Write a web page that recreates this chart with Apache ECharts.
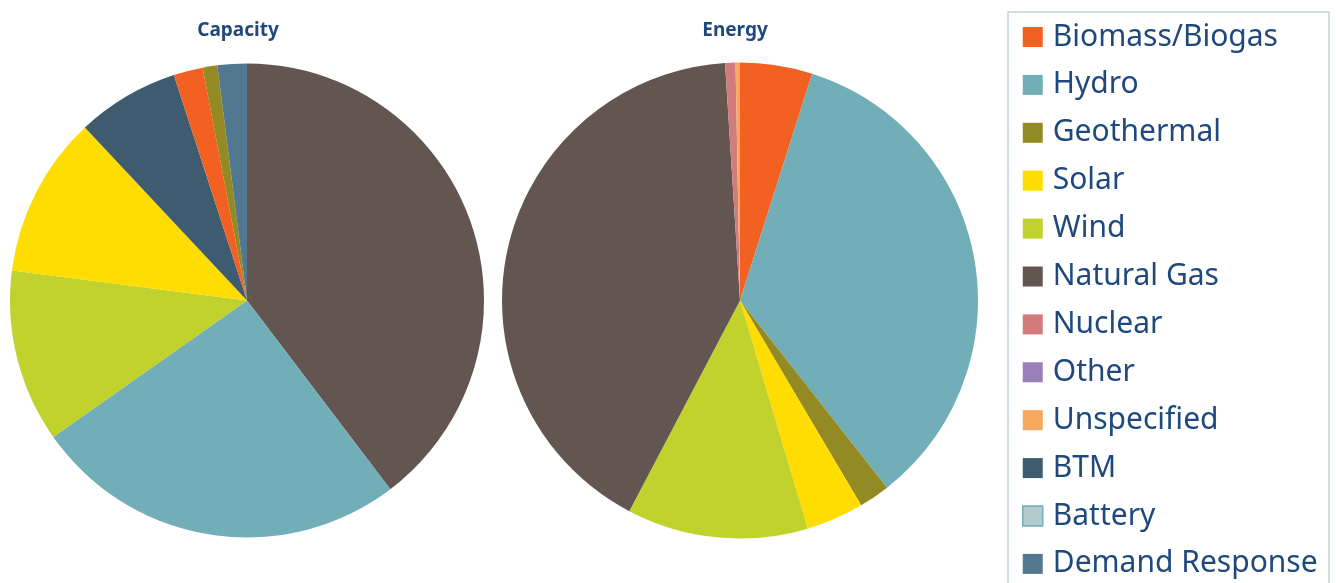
<!DOCTYPE html>
<html>
<head>
<meta charset="utf-8">
<script src="https://cdn.jsdelivr.net/npm/echarts@6/dist/echarts.min.js"></script>
<style>
  html, body { margin: 0; padding: 0; background: #fff; }
  #chart { width: 1336px; height: 583px; }
</style>
</head>
<body>
<div id="chart"></div>
<script>
// Legend categories (legend order)
const categories = ['Biomass/Biogas', 'Hydro', 'Geothermal', 'Solar', 'Wind', 'Natural Gas',
  'Nuclear', 'Other', 'Unspecified', 'BTM', 'Battery', 'Demand Response'];
const categoryColors = ['#F26122', '#71AEB8', '#948A23', '#FFDD00', '#C1D22C', '#635651',
  '#D37B7B', '#9A7FB8', '#F9A860', '#3E5B6F', '#B3CCCF', '#51788F'];

// Capacity pie (clockwise from 12 o'clock), percent
const capacityNames = ['Natural Gas', 'Hydro', 'Wind', 'Solar', 'BTM', 'Biomass/Biogas', 'Geothermal', 'Demand Response'];
const capacityValues = [39.7, 25.6, 11.8, 11.0, 7.0, 2.0, 1.0, 2.0];

// Energy pie (clockwise from 12 o'clock), percent
const energyNames = ['Biomass/Biogas', 'Hydro', 'Geothermal', 'Solar', 'Wind', 'Natural Gas', 'Nuclear', 'Other', 'Unspecified', 'Battery'];
const energyValues = [4.9, 34.5, 2.1, 3.9, 12.3, 41.3, 0.7, 0, 0.3, 0];

const colorOf = name => categoryColors[categories.indexOf(name)];
const build = (names, values) => names.map((n, i) => ({
  name: n, value: values[i], itemStyle: { color: colorOf(n) }
}));

const titleColor = '#1F497D';
const chart = echarts.init(document.getElementById('chart'), null, { renderer: 'canvas' });
chart.setOption({
  animation: false,
  backgroundColor: '#ffffff',
  title: [
    { text: 'Capacity', left: 233, top: 16, textAlign: 'center',
      textStyle: { fontFamily: 'Noto Sans', fontWeight: 'bold', fontSize: 19, color: titleColor } },
    { text: 'Energy', left: 730, top: 16, textAlign: 'center',
      textStyle: { fontFamily: 'Noto Sans', fontWeight: 'bold', fontSize: 19, color: titleColor } }
  ],
  legend: {
    data: categories.map((c, i) => ({
      name: c,
      itemStyle: c === 'Battery' ? { color: categoryColors[i], borderColor: '#72AEB7', borderWidth: 1.5 } : { color: categoryColors[i] }
    })),
    orient: 'vertical',
    left: 1022,
    top: 22,
    icon: 'rect',
    itemWidth: 20,
    itemHeight: 20,
    itemGap: 17.9,
    selectedMode: false,
    padding: 0,
    textStyle: { fontFamily: 'Noto Sans', fontSize: 30, color: titleColor, lineHeight: 30, padding: [0, 0, 0, 5] }
  },
  graphic: [
    { type: 'rect', shape: { x: 1008, y: 12, width: 321, height: 600 },
      style: { fill: 'none', stroke: '#C3D5D8', lineWidth: 1.5 }, silent: true }
  ],
  series: [
    { name: 'Capacity', type: 'pie', center: [247, 300.5], radius: 237, startAngle: 90, clockwise: true,
      label: { show: false }, labelLine: { show: false }, emphasis: { disabled: true },
      itemStyle: { borderWidth: 0 }, data: build(capacityNames, capacityValues) },
    { name: 'Energy', type: 'pie', center: [740, 300.5], radius: 238, startAngle: 90, clockwise: true,
      label: { show: false }, labelLine: { show: false }, emphasis: { disabled: true },
      itemStyle: { borderWidth: 0 }, data: build(energyNames, energyValues) }
  ]
});
</script>
</body>
</html>
